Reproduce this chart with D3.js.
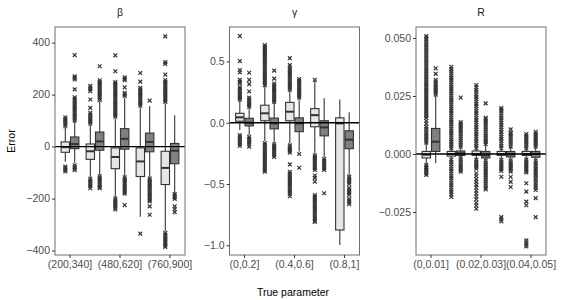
<!DOCTYPE html>
<html>
<head>
<meta charset="utf-8">
<script src="https://cdn.jsdelivr.net/npm/d3@7"></script>
<style>
  body { margin: 0; background: #fff; }
  text { font-family: "Liberation Sans", Arial, sans-serif; }
</style>
</head>
<body>
<svg id="chart"></svg>
<script>
// categories (true parameter bins) for each facet
const betaCats = ["(200,340]", "(340,480]", "(480,620]", "(620,760]", "(760,900]"];
const gammaCats = ["(0,0.2]", "(0.2,0.4]", "(0.4,0.6]", "(0.6,0.8]", "(0.8,1]"];
const rCats = ["(0,0.01]", "(0.01,0.02]", "(0.02,0.03]", "(0.03,0.04]", "(0.04,0.05]"];

// y tick values
const betaTicks = [-400, -200, 0, 200, 400];
const gammaTicks = [-1, -0.5, 0, 0.5];
const rTicks = [-0.025, 0, 0.025, 0.05];

// box stats per category: [lower whisker, q1, median, q3, upper whisker]
const betaLight = [[-58, -22, -2, 18, 72], [-120, -49, -18, 10, 82], [-196, -85, -40, -5, 108], [-270, -115, -57, -5, 150], [-325, -146, -82, -18, 165]];
const betaDark = [[-64, -8, 10, 37, 95], [-110, -14, 20, 56, 172], [-114, -10, 30, 69, 188], [-118, -20, 18, 52, 155], [-180, -66, -16, 12, 121]];
const gammaLight = [[-0.06, 0.012, 0.044, 0.077, 0.18], [-0.15, 0.016, 0.077, 0.143, 0.3], [-0.17, 0.016, 0.09, 0.166, 0.26], [-0.25, -0.033, 0.062, 0.115, 0.34], [-0.997, -0.875, -0.005, 0.04, 0.19]];
const gammaDark = [[-0.1, -0.026, 0.001, 0.036, 0.12], [-0.165, -0.05, -0.005, 0.038, 0.16], [-0.235, -0.073, -0.005, 0.04, 0.19], [-0.28, -0.107, -0.038, 0.016, 0.2], [-0.43, -0.212, -0.138, -0.066, 0.085]];
const rLight = [[-0.0045, -0.0017, -0.0003, 0.0011, 0.0045], [-0.002, -0.0009, 0, 0.0011, 0.0022], [-0.0022, -0.0006, 0, 0.0013, 0.0025], [-0.002, -0.0006, 0, 0.0011, 0.0022], [-0.002, -0.0006, 0, 0.0011, 0.002]];
const rDark = [[-0.004, 0.0011, 0.0053, 0.011, 0.025], [-0.0012, -0.0006, 0.0003, 0.0013, 0.0028], [-0.0025, -0.0017, -0.0006, 0.0011, 0.004], [-0.0025, -0.0013, -0.0002, 0.0011, 0.003], [-0.0025, -0.0014, 0, 0.0011, 0.003]];

// outliers per category
const betaLightOut = [
  [78, 85, 92, 99, 106, 113, -77, -84, -90, -96],
  [88, 95, 102, 109, 116, 123, 130, 149, 181, 213, 220, 227, 234, -124, -131, -138, -145, -152, -160],
  [115, 122, 129, 136, 143, 150, 157, 164, 171, 178, 185, 192, 199, 206, 213, 220, 227, 234, 241, 248, 290, 351, -200, -207, -214, -221, -228, -235, -242],
  [157, 164, 171, 178, 185, 192, 199, 206, 213, 220, 226, 250, 283, -335],
  [172, 179, 186, 193, 200, 207, 214, 221, 228, 235, 242, 249, 256, 277, 318, 325, 424, -332, -339, -346, -353, -360, -367, -374, -381, -386]
];
const betaDarkOut = [
  [100, 107, 114, 121, 128, 135, 142, 149, 156, 163, 170, 177, 184, 190, 220, 258, 264, 270, 352, -72, -79, -85, -91],
  [178, 185, 192, 199, 206, 213, 220, 227, 234, 241, 248, 255, 309, -114, -121, -128, -135, -142, -149, -156, -160],
  [195, 201, 207, 228, 255, 260, 266, -118, -125, -132, -139, -146, -153, -160, -167, -174, -181, -225],
  [177, -123, -130, -137, -144, -151, -158, -165, -172, -179, -186, -193, -200, -207, -211, -230, -262],
  [-183, -189, -195, -201, -230, -241, -252]
];
const gammaLightOut = [
  [0.188, 0.203, 0.218, 0.233, 0.248, 0.263, 0.278, 0.292, 0.32, 0.335, 0.35, 0.41, 0.43, 0.503, 0.707, -0.1, -0.115, -0.13, -0.145, -0.16, -0.175, -0.19],
  [0.307, 0.322, 0.338, 0.352, 0.367, 0.383, 0.397, 0.412, 0.428, 0.442, 0.457, 0.473, 0.487, 0.502, 0.517, 0.533, 0.547, 0.562, 0.578, 0.592, 0.607, 0.621, 0.634,
   -0.165, -0.18, -0.196, -0.21, -0.225, -0.241, -0.255, -0.27, -0.286, -0.3, -0.315, -0.331, -0.345, -0.36, -0.376, -0.39, -0.4],
  [0.27, 0.285, 0.3, 0.316, 0.33, 0.345, 0.361, 0.375, 0.39, 0.406, 0.42, 0.435, 0.451, 0.47, 0.527,
   -0.185, -0.2, -0.215, -0.23, -0.245, -0.34, -0.4, -0.415, -0.43, -0.446, -0.46, -0.475, -0.491, -0.505, -0.52, -0.536, -0.55, -0.565, -0.581, -0.6],
  [0.35, -0.265, -0.28, -0.295, -0.31, -0.325, -0.34, -0.355, -0.37, -0.385, -0.43, -0.45, -0.48,
   -0.59, -0.605, -0.62, -0.636, -0.65, -0.665, -0.681, -0.695, -0.71, -0.726, -0.74, -0.755, -0.771, -0.785, -0.8, -0.81],
  []
];
const gammaDarkOut = [
  [0.13, 0.145, 0.16, 0.175, 0.19, 0.205, 0.255, 0.315, 0.35, 0.408, -0.115, -0.13, -0.145, -0.16, -0.175, -0.195],
  [0.17, 0.185, 0.2, 0.215, 0.23, 0.245, 0.26, 0.275, 0.29, 0.305, 0.32, 0.36, 0.425, -0.175, -0.19, -0.205, -0.22, -0.235, -0.25, -0.265, -0.28],
  [0.205, 0.22, 0.235, 0.25, 0.265, 0.28, 0.295, 0.31, 0.325, 0.34, 0.356, -0.255, -0.367],
  [-0.295, -0.31, -0.325, -0.34, -0.355, -0.37, -0.385, -0.575],
  [-0.44, -0.455, -0.47, -0.485, -0.5, -0.53, -0.545, -0.56, -0.575, -0.59, -0.62, -0.635, -0.65, -0.665]
];
const rLightOut = [
  [0.0049, 0.0057, 0.0066, 0.0074, 0.0083, 0.0091, 0.0101, 0.0109, 0.0118, 0.0131, 0.0142, 0.0155, 0.0163, 0.0172, 0.0181, 0.0189, 0.0198, 0.0207,
   0.0215, 0.0224, 0.0233, 0.0241, 0.025, 0.0259, 0.0268, 0.0276, 0.0285, 0.0294, 0.0302, 0.0311, 0.032, 0.0329, 0.0337, 0.0346, 0.0355, 0.0363,
   0.0372, 0.0381, 0.039, 0.0398, 0.0407, 0.0416, 0.0424, 0.0433, 0.0442, 0.045, 0.0459, 0.0468, 0.0476, 0.0485, 0.0494, 0.0502, 0.0508,
   -0.0048, -0.0055, -0.0062, -0.0069, -0.0076, -0.0083, -0.009],
  [0.0024, 0.0033, 0.0043, 0.0052, 0.0062, 0.0071, 0.0081, 0.009, 0.01, 0.0109, 0.0119, 0.0128, 0.0138, 0.0147, 0.0157, 0.0166, 0.0176, 0.0185, 0.0195,
   0.0204, 0.0214, 0.0223, 0.0233, 0.0242, 0.0252, 0.0261, 0.0271, 0.028, 0.029, 0.0299, 0.0309, 0.0318, 0.0328, 0.0337, 0.0347, 0.0356, 0.0366, 0.0376,
   -0.0024, -0.0034, -0.0044, -0.0054, -0.0064, -0.0074, -0.0084, -0.0094, -0.0104, -0.0114, -0.0124, -0.0134, -0.0144, -0.0154, -0.0164, -0.0174, -0.0185],
  [0.0026, 0.0036, 0.0046, 0.0056, 0.0066, 0.0076, 0.0086, 0.0096, 0.0106, 0.0116, 0.0126, 0.0136, 0.0146, 0.0156, 0.0166, 0.0176, 0.0186, 0.0196,
   0.0206, 0.0216, 0.0226, 0.0236, 0.0246, 0.0256, 0.0266, 0.0276, 0.0287, 0.0297,
   -0.0025, -0.0033, -0.0041, -0.0049, -0.0055, -0.0063, -0.0083, -0.0095, -0.0108, -0.012, -0.0133, -0.0145, -0.0158, -0.017, -0.0183, -0.0195, -0.021, -0.0222, -0.0236],
  [0.0025, 0.0035, 0.0045, 0.0055, 0.0065, 0.0075, 0.0085, 0.0095, 0.0105, 0.0115, 0.0125, 0.0135, 0.0145, 0.0155, 0.0165, 0.0175, 0.0185, 0.0192, 0.0198,
   -0.0025, -0.0033, -0.0041, -0.0049, -0.0057, -0.0065, -0.0073, -0.0098, -0.0272, -0.0281, -0.029],
  [0.0024, 0.0033, 0.0042, 0.0051, 0.006, 0.0069, 0.0078, 0.0086,
   -0.0024, -0.0032, -0.004, -0.0048, -0.0056, -0.0064, -0.0072, -0.0079, -0.0126, -0.0162, -0.0205, -0.0221, -0.0372, -0.0381, -0.039, -0.0398]
];
const rDarkOut = [
  [0.0256, 0.0264, 0.0272, 0.028, 0.0288, 0.0296, 0.0304, 0.0312, 0.032, 0.0345, 0.0369],
  [0.0031, 0.004, 0.0049, 0.0058, 0.0067, 0.0076, 0.0085, 0.0094, 0.0103, 0.0112, 0.0121, 0.013, 0.0138, 0.0243,
   -0.0015, -0.0024, -0.0033, -0.0042, -0.0051, -0.006, -0.0068, -0.0076],
  [0.0043, 0.0052, 0.0061, 0.007, 0.0079, 0.0088, 0.0097, 0.0106, 0.0115, 0.0124, 0.0133, 0.0142, 0.015, 0.0156, 0.0218,
   -0.0028, -0.0037, -0.0046, -0.0055, -0.0064, -0.0073, -0.0082, -0.0091, -0.01, -0.0109, -0.0118, -0.0127, -0.0136, -0.0145, -0.0153],
  [0.0032, 0.0041, 0.005, 0.0059, 0.0068, 0.0077, 0.0086, 0.0092, 0.0106,
   -0.0028, -0.0036, -0.0044, -0.0052, -0.006, -0.0068, -0.0076, -0.0099, -0.012, -0.0142],
  [0.0032, 0.004, 0.0048, 0.0056, 0.0064, 0.0072, 0.008, 0.0088, 0.0096,
   -0.0028, -0.0037, -0.0046, -0.0055, -0.0064, -0.0073, -0.0082, -0.0091, -0.01, -0.0109, -0.0118, -0.0127, -0.0136, -0.0145, -0.0155, -0.019, -0.0272]
];

// layout
const w = 570, h = 300;
const panelTop = 27, panelW = 130, panelH = 228;
const lightFill = "#e6e6e6", darkFill = "#808080", ink = "#333333";

const svg = d3.select("#chart").attr("width", w).attr("height", h);

const panels = [
  { title: "β", left: 55, cats: betaCats, domain: [-417, 460], ticks: betaTicks, fmt: d3.format("d"),
    light: betaLight, dark: betaDark, lightOut: betaLightOut, darkOut: betaDarkOut },
  { title: "γ", left: 229.5, cats: gammaCats, domain: [-1.079, 0.781], ticks: gammaTicks, fmt: d3.format(".1f"),
    light: gammaLight, dark: gammaDark, lightOut: gammaLightOut, darkOut: gammaDarkOut },
  { title: "R", left: 416, cats: rCats, domain: [-0.0435, 0.0547], ticks: rTicks, fmt: d3.format(".3f"),
    light: rLight, dark: rDark, lightOut: rLightOut, darkOut: rDarkOut }
];

const marker = d3.symbol(d3.symbolX).size(11);

panels.forEach(p => {
  const g = svg.append("g").attr("transform", `translate(${p.left},${panelTop})`);

  const x = d3.scaleBand().domain(p.cats).range([0, panelW]).paddingInner(0.25).paddingOuter(0.225);
  const xSub = d3.scaleBand().domain(["light", "dark"]).range([0, x.bandwidth()]);
  const y = d3.scaleLinear().domain(p.domain).range([panelH, 0]);

  // one record per box
  const boxes = [];
  p.cats.forEach((c, i) => {
    boxes.push({ cat: c, kind: "light", s: p.light[i], out: p.lightOut[i], fill: lightFill });
    boxes.push({ cat: c, kind: "dark", s: p.dark[i], out: p.darkOut[i], fill: darkFill });
  });

  const bw = xSub.bandwidth();
  const grp = g.selectAll("g.box").data(boxes).enter().append("g")
    .attr("class", "box")
    .attr("transform", d => `translate(${x(d.cat) + xSub(d.kind)},0)`);

  // outliers
  grp.selectAll("path.out").data(d => d.out).enter().append("path")
    .attr("class", "out")
    .attr("d", marker)
    .attr("transform", v => `translate(${bw / 2},${y(v)})`)
    .attr("fill", "none")
    .attr("stroke", ink)
    .attr("stroke-width", 1.2);

  // whiskers
  grp.append("line")
    .attr("x1", bw / 2).attr("x2", bw / 2)
    .attr("y1", d => y(d.s[0])).attr("y2", d => y(d.s[4]))
    .attr("stroke", ink).attr("stroke-width", 1.1);

  // box
  grp.append("rect")
    .attr("x", 0.5)
    .attr("width", bw - 1)
    .attr("y", d => y(d.s[3]))
    .attr("height", d => y(d.s[1]) - y(d.s[3]))
    .attr("fill", d => d.fill)
    .attr("stroke", ink).attr("stroke-width", 1.1);

  // median
  grp.append("line")
    .attr("x1", 0.5).attr("x2", bw - 0.5)
    .attr("y1", d => y(d.s[2])).attr("y2", d => y(d.s[2]))
    .attr("stroke", ink).attr("stroke-width", 2);

  // zero reference line
  g.append("line")
    .attr("x1", 0).attr("x2", panelW)
    .attr("y1", y(0)).attr("y2", y(0))
    .attr("stroke", "#000").attr("stroke-width", 1.3);

  // panel border
  g.append("rect")
    .attr("width", panelW).attr("height", panelH)
    .attr("fill", "none").attr("stroke", "#6e6e6e").attr("stroke-width", 1);

  // axes
  const yAxis = d3.axisLeft(y).tickValues(p.ticks).tickFormat(p.fmt).tickSize(3).tickPadding(2);
  const ya = g.append("g").call(yAxis);
  const xAxis = d3.axisBottom(x).tickValues([p.cats[0], p.cats[2], p.cats[4]]).tickSize(3).tickPadding(3);
  const xa = g.append("g").attr("transform", `translate(0,${panelH})`).call(xAxis);
  [ya, xa].forEach(a => {
    a.select(".domain").remove();
    a.selectAll(".tick line").attr("stroke", ink).attr("stroke-width", 1);
    a.selectAll(".tick text").attr("fill", "#4d4d4d").style("font-size", "10.5px");
  });

  // strip title
  g.append("text")
    .attr("x", panelW / 2).attr("y", -11)
    .attr("text-anchor", "middle")
    .style("font-size", "10.5px")
    .attr("fill", "#1a1a1a")
    .text(p.title);
});

// axis titles
svg.append("text")
  .attr("x", 293).attr("y", 296)
  .attr("text-anchor", "middle")
  .style("font-size", "10.5px")
  .text("True parameter");

svg.append("text")
  .attr("transform", "translate(15,141) rotate(-90)")
  .attr("text-anchor", "middle")
  .style("font-size", "10.5px")
  .text("Error");
</script>
</body>
</html>
